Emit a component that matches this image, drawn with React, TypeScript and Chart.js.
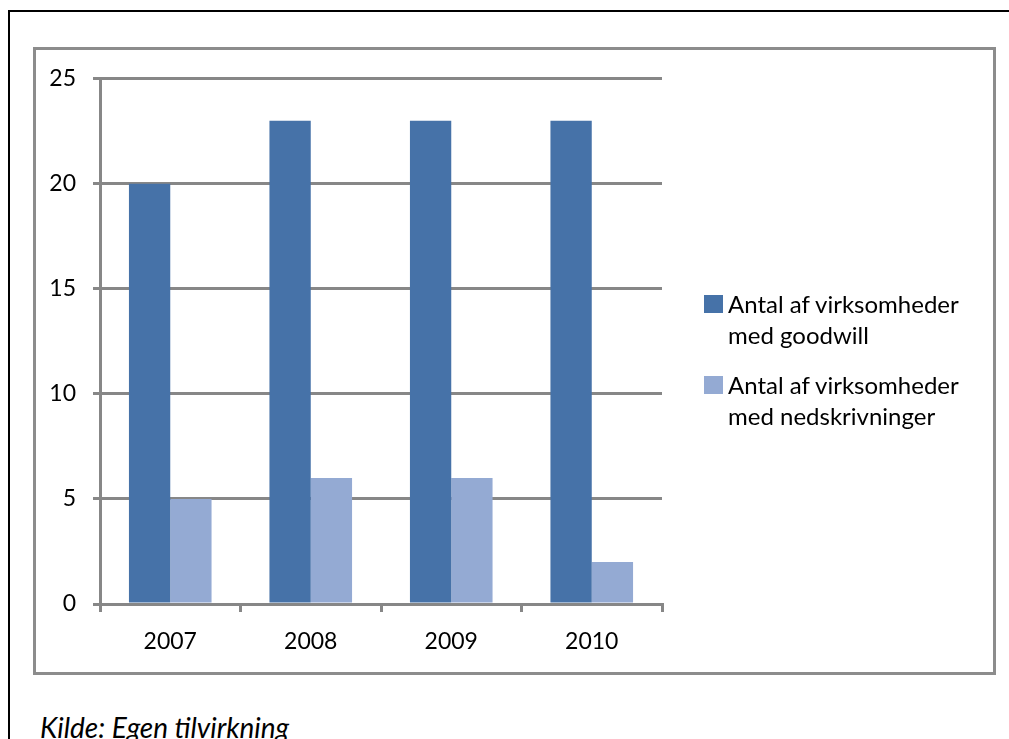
import React, { useEffect, useRef } from "react";
import { Chart, registerables } from "chart.js";

Chart.register(...registerables);

const years = ["2007", "2008", "2009", "2010"];
const goodwillCounts = [20, 23, 23, 23];
const writeDownCounts = [5, 6, 6, 2];
const yTicks = [0, 5, 10, 15, 20, 25];

const seriesLabels = [
  ["Antal af virksomheder", "med goodwill"],
  ["Antal af virksomheder", "med nedskrivninger"],
];
const seriesColors = ["#4672a8", "#94aad3"];

const FONT = "Lato, 'Open Sans', sans-serif";
const GRID = "#878787";

export default function App() {
  const canvasRef = useRef<HTMLCanvasElement | null>(null);

  useEffect(() => {
    const canvas = canvasRef.current;
    if (!canvas) return;
    const chart = new Chart(canvas, {
      type: "bar",
      data: {
        labels: years,
        datasets: [
          {
            label: seriesLabels[0].join(" "),
            data: goodwillCounts,
            backgroundColor: seriesColors[0],
            borderWidth: 0,
            barPercentage: 1,
            categoryPercentage: 0.588,
          },
          {
            label: seriesLabels[1].join(" "),
            data: writeDownCounts,
            backgroundColor: seriesColors[1],
            borderWidth: 0,
            barPercentage: 1,
            categoryPercentage: 0.588,
          },
        ],
      },
      options: {
        animation: false,
        responsive: false,
        maintainAspectRatio: false,
        devicePixelRatio: 1,
        layout: { padding: { left: 0, top: 28, right: 331, bottom: 0 } },
        plugins: {
          legend: { display: false },
          tooltip: { enabled: false },
        },
        scales: {
          x: {
            grid: {
              offset: true,
              drawOnChartArea: false,
              drawTicks: true,
              tickLength: 8,
              color: GRID,
              lineWidth: 3,
            },
            border: { display: true, color: GRID, width: 3 },
            ticks: {
              color: "#000",
              font: { family: FONT, size: 23 },
              padding: 16,
            },
            afterFit: (scale: any) => {
              scale.height = 68;
            },
          },
          y: {
            min: yTicks[0],
            max: yTicks[yTicks.length - 1],
            afterBuildTicks: (scale: any) => {
              scale.ticks = yTicks.map((v) => ({ value: v }));
            },
            grid: {
              color: GRID,
              lineWidth: 3,
              drawTicks: true,
              tickLength: 7,
            },
            border: { display: true, color: GRID, width: 3 },
            ticks: {
              color: "#000",
              font: { family: FONT, size: 23 },
              padding: 17,
            },
            afterFit: (scale: any) => {
              scale.width = 66;
            },
          },
        },
      },
    });
    return () => chart.destroy();
  }, []);

  return (
    <div
      style={{
        position: "fixed",
        left: 0,
        top: 0,
        width: 1009,
        height: 739,
        overflow: "hidden",
        fontFamily: FONT,
        background: "#fff",
      }}
    >
      {/* outer frame: top edge and left edge */}
      <div
        style={{
          position: "absolute",
          left: 8,
          top: 10,
          width: 1001,
          height: 2,
          background: "#000",
        }}
      />
      <div
        style={{
          position: "absolute",
          left: 8,
          top: 10,
          width: 2,
          height: 729,
          background: "#000",
        }}
      />
      {/* chart box */}
      <div
        style={{
          position: "absolute",
          left: 33,
          top: 47,
          width: 957,
          height: 622,
          border: "3px solid #8c8c8c",
        }}
      />
      <canvas
        ref={canvasRef}
        width={959}
        height={624}
        style={{ position: "absolute", left: 34, top: 48, width: 959, height: 624 }}
      />
      {seriesLabels.map((lines, i) => (
        <div
          key={i}
          style={{
            position: "absolute",
            left: 704,
            top: 290 + i * 81,
            display: "flex",
            alignItems: "flex-start",
          }}
        >
          <div
            style={{
              width: 19,
              height: 18,
              marginTop: 5,
              background: seriesColors[i],
              flex: "none",
            }}
          />
          <div
            style={{
              marginLeft: 5,
              fontSize: 24,
              lineHeight: "31px",
              color: "#000",
              marginTop: -2,
              whiteSpace: "nowrap",
            }}
          >
            {lines.map((l, j) => (
              <div key={j}>{l}</div>
            ))}
          </div>
        </div>
      ))}
      <div
        style={{
          position: "absolute",
          left: 40,
          top: 712,
          fontSize: 28,
          fontStyle: "italic",
          color: "#000",
          whiteSpace: "nowrap",
          lineHeight: "30px",
        }}
      >
        Kilde: Egen tilvirkning
      </div>
    </div>
  );
}
